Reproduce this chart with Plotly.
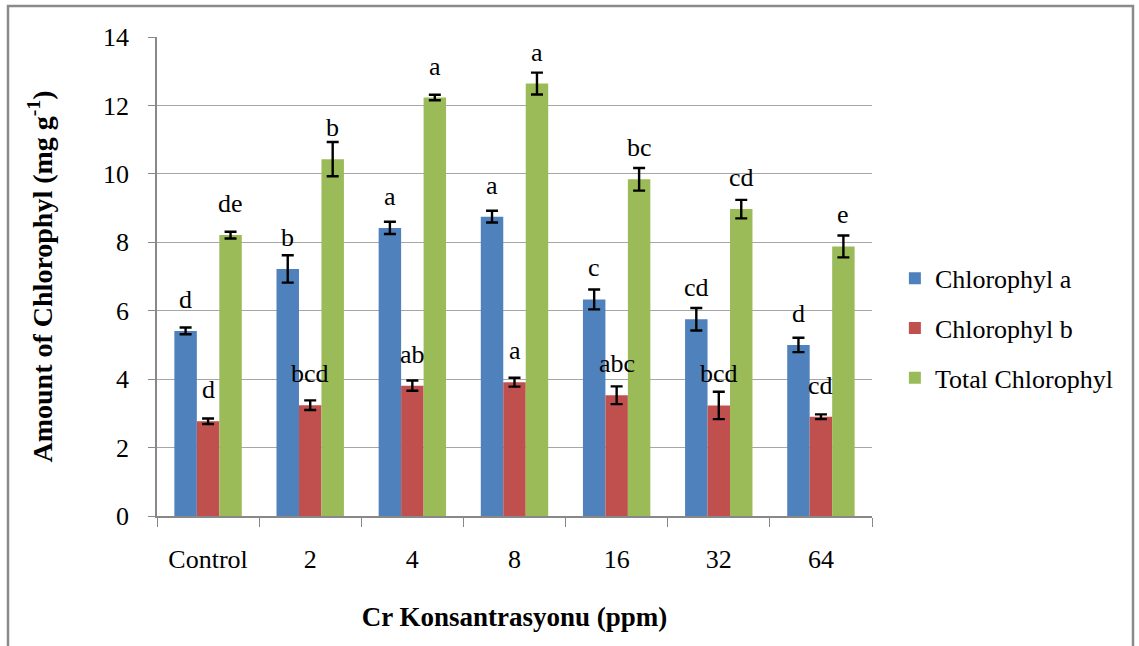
import plotly.graph_objects as go

categories = ["Control", "2", "4", "8", "16", "32", "64"]
chl_a = [5.41, 7.22, 8.42, 8.75, 6.33, 5.75, 5.00]
chl_a_err = [0.10, 0.40, 0.18, 0.17, 0.29, 0.33, 0.21]
chl_b = [2.77, 3.24, 3.81, 3.91, 3.53, 3.23, 2.90]
chl_b_err = [0.08, 0.14, 0.15, 0.13, 0.26, 0.40, 0.07]
total = [8.21, 10.43, 12.23, 12.64, 9.84, 8.97, 7.88]
total_err = [0.10, 0.50, 0.08, 0.32, 0.33, 0.27, 0.32]
letters_a = ["d", "b", "a", "a", "c", "cd", "d"]
letters_b = ["d", "bcd", "ab", "a", "abc", "bcd", "cd"]
letters_t = ["de", "b", "a", "a", "bc", "cd", "e"]

names = ["Chlorophyl a", "Chlorophyl b", "Total Chlorophyl"]
colors = ["#4F81BD", "#C0504D", "#9BBB59"]
series = [(chl_a, chl_a_err, letters_a), (chl_b, chl_b_err, letters_b), (total, total_err, letters_t)]

FONT = "Liberation Serif"
FS = 26
fig = go.Figure()
for (vals, errs, _), name, col in zip(series, names, colors):
    fig.add_trace(go.Bar(
        x=categories, y=vals, name=name, marker_color=col, marker_line_width=0,
        legendgroup=name,
        error_y=dict(type="data", array=errs, visible=True, color="black", thickness=2.4, width=6),
    ))

# letters above bars
offsets = [-1, 0, 1]
bar_w = 0.22
for (vals, errs, labs), off in zip(series, offsets):
    for i, (v, e, lab) in enumerate(zip(vals, errs, labs)):
        fig.add_annotation(
            x=i + off * bar_w, y=v, xref="x", yref="y", text=lab, showarrow=False,
            yanchor="bottom", yshift=15, font=dict(family=FONT, size=FS, color="black"),
        )

fig.update_layout(
    width=1139, height=646,
    margin=dict(l=157, r=267, t=37, b=130),
    paper_bgcolor="white", plot_bgcolor="white",
    barmode="group", bargap=0.34, bargroupgap=0,
    font=dict(family=FONT, size=FS, color="black"),
    showlegend=True,
    legend=dict(x=1.032, y=0.392, xanchor="left", yanchor="middle",
                font=dict(family=FONT, size=FS, color="black"),
                tracegroupgap=13, itemwidth=30, bgcolor="rgba(0,0,0,0)"),
    xaxis=dict(
        type="category", showline=True, linecolor="#888888", linewidth=1.5,
        ticks="outside", tickson="boundaries", ticklen=9, tickcolor="#888888",
        tickfont=dict(family=FONT, size=FS), showgrid=False, ticklabelstandoff=19,
        title=dict(text="<b>Cr Konsantrasyonu (ppm)</b>", font=dict(family=FONT, size=27), standoff=34),
    ),
    yaxis=dict(
        range=[0, 14], dtick=2, showline=True, linecolor="#888888", linewidth=1.5,
        ticks="outside", ticklen=7, tickcolor="#888888",
        showgrid=True, gridcolor="#a6a6a6", gridwidth=1.2, zeroline=False,
        tickfont=dict(family=FONT, size=FS), ticklabelstandoff=14,
        title=dict(text="<b>Amount of Chlorophyl (mg g<sup>-1</sup>)</b>", font=dict(family=FONT, size=28), standoff=42),
    ),
)

fig.add_shape(type="rect", xref="paper", yref="paper",
              x0=(8 - 157) / 715, x1=(1133 - 157) / 715,
              y0=(516 - 660) / 479, y1=(516 - 6) / 479,
              line=dict(color="#8a8a8a", width=2.5), fillcolor="rgba(0,0,0,0)", layer="below")

fig.write_html("out.html")
